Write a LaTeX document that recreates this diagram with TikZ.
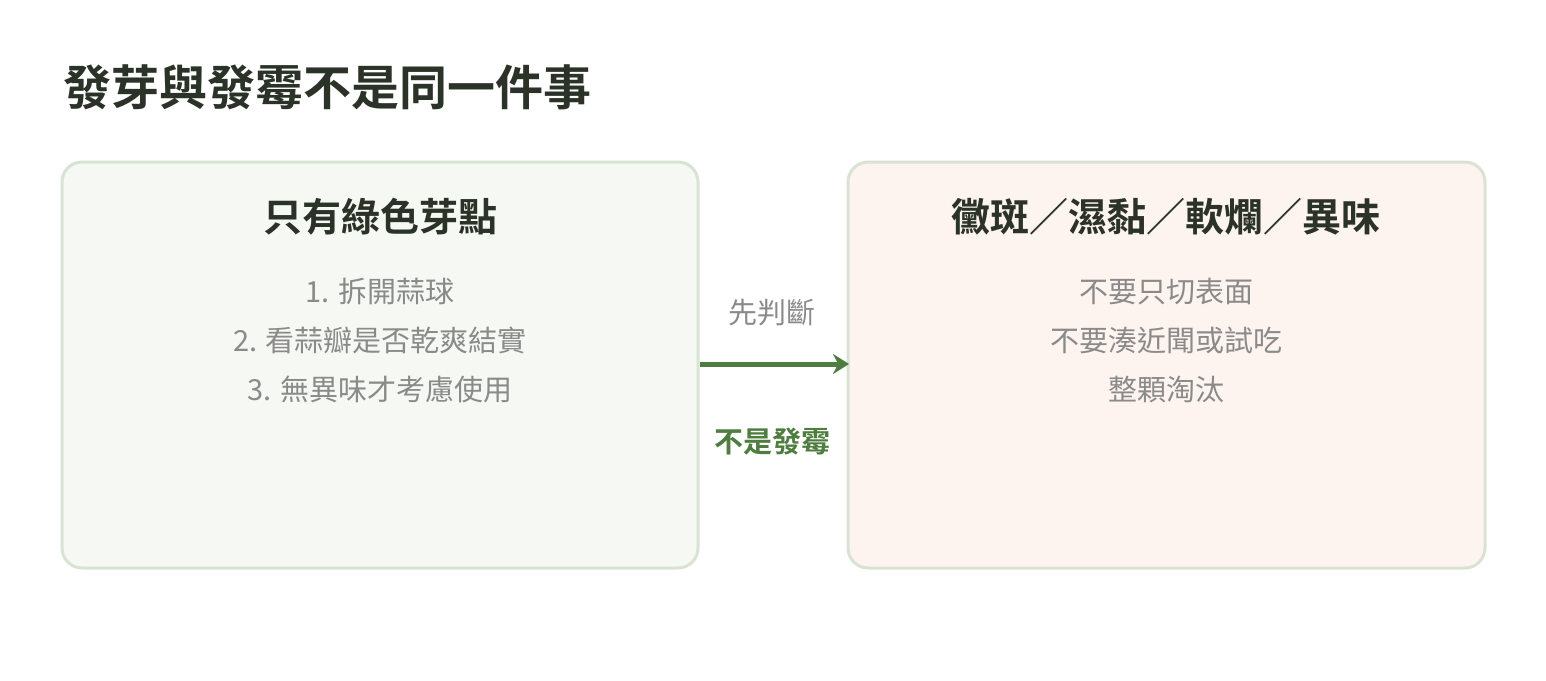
\documentclass[tikz,border=0pt]{standalone}
\usepackage{fontspec}
\usetikzlibrary{arrows.meta}
\setmainfont{Noto Sans CJK TC}[BoldFont={Noto Sans CJK TC Bold}]
\definecolor{ink}{HTML}{2B3328}
\definecolor{soft}{HTML}{8A8A8A}
\definecolor{rim}{HTML}{D9E3D3}
\definecolor{leaf}{HTML}{4E7D3F}
\definecolor{pale}{HTML}{F6F8F3}
\definecolor{blush}{HTML}{FDF3EF}
\begin{document}
\begin{tikzpicture}[
        x=1pt, y=-1pt,
        card/.style={draw=rim, line width=3pt, rounded corners=20pt},
        head/.style={font=\fontsize{39}{44}\selectfont\bfseries, text=ink},
        body/.style={font=\fontsize{29}{49}\selectfont, text=soft, align=center, anchor=north},
    ]
    \useasboundingbox (0,0) rectangle (1546,680);
    \node[anchor=base west, font=\fontsize{48}{56}\selectfont\bfseries, text=ink] (title) at (60,105) {發芽與發霉不是同一件事};

    % left card
    \draw[card, fill=pale] (62,162) rectangle (698,568);
    \node[head] (lhead) at (380,217) {只有綠色芽點};
    \node[body] (lbody) at (380,275) {1. 拆開蒜球\\2. 看蒜瓣是否乾爽結實\\3. 無異味才考慮使用};

    % right card
    \draw[card, fill=blush] (848,162) rectangle (1485,568);
    \node[head] (rhead) at (1166,217) {黴斑／濕黏／軟爛／異味};
    \node[body] (rbody) at (1166,275) {不要只切表面\\不要湊近聞或試吃\\整顆淘汰};

    % arrow
    \coordinate (from) at (700,364);
    \coordinate (to) at (849,364);
    \draw[leaf, line width=5pt, -{Stealth[length=16pt, width=20pt]}] (from) -- (to);
    \node[font=\fontsize{29}{32}\selectfont, text=soft] (judge) at (772,313) {先判斷};
    \node[font=\fontsize{29}{32}\selectfont\bfseries, text=leaf] (notmold) at (772,442) {不是發霉};
\end{tikzpicture}
\end{document}
